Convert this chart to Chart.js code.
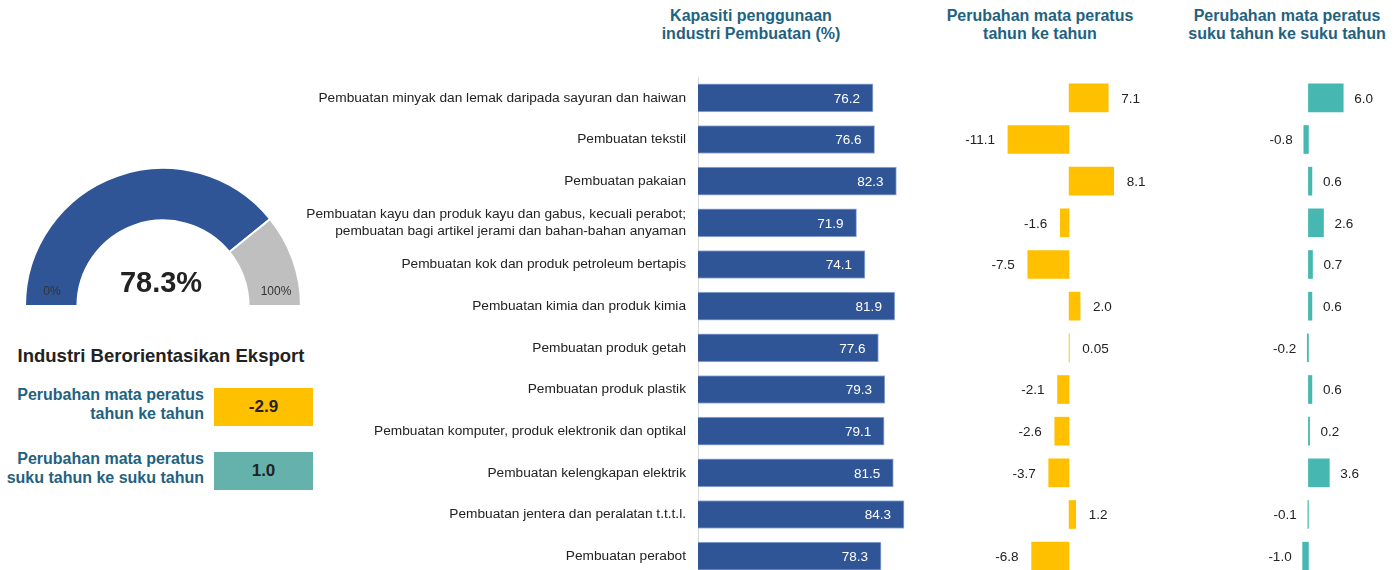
<!DOCTYPE html>
<html>
<head>
<meta charset="utf-8">
<script src="https://cdn.jsdelivr.net/npm/chart.js@4.4.0/dist/chart.umd.min.js"></script>
<style>
  html, body { margin: 0; padding: 0; background: #fff; overflow: hidden; }
  body { width: 1396px; height: 570px; position: relative; font-family: "Liberation Sans", Arial, sans-serif; }
  .abs { position: absolute; }
  .title { color: #1F6280; font-weight: bold; font-size: 16px; line-height: 18px; text-align: center; }
  .boxlbl { color: #1F6280; font-weight: bold; font-size: 16px; line-height: 19px; text-align: right; width: 220px; }
  .box { width: 99px; height: 38px; line-height: 38px; text-align: center; font-weight: bold; font-size: 17px; color: #222; }
</style>
</head>
<body>
<!-- gauge -->
<div class="abs" style="left:23px; top:167px; width:280px; height:140px;"><canvas id="gauge"></canvas></div>
<div class="abs" id="gaugeVal" style="left:81px; top:266px; width:160px; text-align:center; font-weight:bold; font-size:29px; color:#222;"></div>
<div class="abs" style="left:32px; top:284px; width:40px; text-align:center; font-size:12px; color:#333;">0%</div>
<div class="abs" style="left:254px; top:284px; width:44px; text-align:center; font-size:12px; color:#333;">100%</div>

<div class="abs" style="left:0; top:345px; width:322px; text-align:center; font-weight:bold; font-size:18.5px; color:#222;">Industri Berorientasikan Eksport</div>
<div class="abs boxlbl" style="left:-16px; top:385px;">Perubahan mata peratus<br>tahun ke tahun</div>
<div class="abs box" id="boxYoy" style="left:214px; top:388px; background:#FFC000;"></div>
<div class="abs boxlbl" style="left:-16px; top:449px;">Perubahan mata peratus<br>suku tahun ke suku tahun</div>
<div class="abs box" id="boxQoq" style="left:214px; top:452px; background:#65B2AD;"></div>

<!-- column titles -->
<div class="abs title" style="left:630px; top:7px; width:242px;">Kapasiti penggunaan<br>industri Pembuatan (%)</div>
<div class="abs title" style="left:920px; top:7px; width:240px;">Perubahan mata peratus<br>tahun ke tahun</div>
<div class="abs title" style="left:1167px; top:7px; width:240px;">Perubahan mata peratus<br>suku tahun ke suku tahun</div>

<div class="abs" style="left:280px; top:77px; width:680px; height:500px;"><canvas id="cap"></canvas></div>
<div class="abs" style="left:960px; top:77px; width:200px; height:500px;"><canvas id="yoy"></canvas></div>
<div class="abs" style="left:1200px; top:77px; width:196px; height:500px;"><canvas id="qoq"></canvas></div>

<script>
// data
const industri = [
    'Pembuatan minyak dan lemak daripada sayuran dan haiwan',
    'Pembuatan tekstil',
    'Pembuatan pakaian',
    ['Pembuatan kayu dan produk kayu dan gabus, kecuali perabot;', 'pembuatan bagi artikel jerami dan bahan-bahan anyaman'],
    'Pembuatan kok dan produk petroleum bertapis',
    'Pembuatan kimia dan produk kimia',
    'Pembuatan produk getah',
    'Pembuatan produk plastik',
    'Pembuatan komputer, produk elektronik dan optikal',
    'Pembuatan kelengkapan elektrik',
    'Pembuatan jentera dan peralatan t.t.t.l.',
    'Pembuatan perabot'
];
const kapasiti = [76.2, 76.6, 82.3, 71.9, 74.1, 81.9, 77.6, 79.3, 79.1, 81.5, 84.3, 78.3];
const ubahTahunan = [7.1, -11.1, 8.1, -1.6, -7.5, 2.0, 0.05, -2.1, -2.6, -3.7, 1.2, -6.8];
const ubahSuku = [6.0, -0.8, 0.6, 2.6, 0.7, 0.6, -0.2, 0.6, 0.2, 3.6, -0.1, -1.0];
const kapasitiKeseluruhan = 78.3;
const eksportTahunan = -2.9;
const eksportSuku = 1.0;

function fmt(v) {
    return Number.isInteger(Math.round(v * 100) / 10) ? v.toFixed(1) : String(v);
}

document.getElementById('gaugeVal').textContent = kapasitiKeseluruhan.toFixed(1) + '%';
document.getElementById('boxYoy').textContent = eksportTahunan.toFixed(1);
document.getElementById('boxQoq').textContent = eksportSuku.toFixed(1);

// label plugin: inside end (white) or outside end
const barLabels = {
    id: 'barLabels',
    afterDatasetsDraw(chart, args, opts) {
        if (!opts || !opts.mode) return;
        const ctx = chart.ctx;
        const meta = chart.getDatasetMeta(0);
        const vals = chart.data.datasets[0].data;
        ctx.save();
        ctx.font = '13.5px "Liberation Sans", Arial, sans-serif';
        ctx.textBaseline = 'middle';
        meta.data.forEach(function(bar, i) {
            const v = vals[i];
            let x;
            if (opts.mode === 'inside') {
                ctx.fillStyle = '#fff';
                ctx.textAlign = 'right';
                x = bar.x - opts.offset;
            } else {
                ctx.fillStyle = '#222';
                if (v >= 0) { ctx.textAlign = 'left'; x = bar.x + opts.offset; }
                else { ctx.textAlign = 'right'; x = bar.x - opts.offset; }
            }
            ctx.fillText(fmt(v), x, bar.y + 1);
        });
        ctx.restore();
    }
};

const gaugeChart = new Chart(document.getElementById('gauge'), {
    type: 'doughnut',
    data: {
        labels: ['Digunakan', 'Baki'],
        datasets: [{
            data: [kapasitiKeseluruhan, 100 - kapasitiKeseluruhan],
            backgroundColor: ['#2F5597', '#BFBFBF'],
            borderColor: '#fff',
            borderWidth: 2
        }]
    },
    options: {
        responsive: true,
        maintainAspectRatio: false,
        animation: false,
        rotation: -90,
        circumference: 180,
        cutout: '62%',
        plugins: { legend: { display: false }, tooltip: { enabled: false } }
    }
});

function hbar(id, values, color, min, max, extra) {
    return new Chart(document.getElementById(id), {
        type: 'bar',
        data: {
            labels: industri,
            datasets: [Object.assign({
                data: values,
                backgroundColor: color,
                barThickness: 28
            }, extra.dataset || {})]
        },
        options: {
            indexAxis: 'y',
            responsive: true,
            maintainAspectRatio: false,
            animation: false,
            layout: { padding: 0 },
            scales: {
                x: { display: false, min: min, max: max },
                y: extra.yScale || { display: false }
            },
            plugins: {
                legend: { display: false },
                tooltip: { enabled: false },
                barLabels: extra.labels
            }
        },
        plugins: [barLabels]
    });
}

const capChart = hbar('cap', kapasiti, '#2F5597', 30.5, 98.9, {
    dataset: { borderColor: '#9DB3DD', borderWidth: 1 },
    labels: { mode: 'inside', offset: 13 },
    yScale: {
        display: true,
        grid: { display: false, drawTicks: false },
        border: { display: true, color: '#D9D9D9', width: 1 },
        ticks: {
            padding: 12,
            color: '#222',
            font: { family: '"Liberation Sans", Arial, sans-serif', size: 13.7, lineHeight: 1.2 }
        },
        afterFit: function(scale) {
            scale.width = 418;
            scale.paddingTop = 0;
            scale.paddingBottom = 0;
        }
    }
});

const yoyChart = hbar('yoy', ubahTahunan, '#FFC000', -19.8, 16.5, {
    labels: { mode: 'outside', offset: 13 }
});

const qoqChart = hbar('qoq', ubahSuku, '#47B8B1', -18.7, 15.1, {
    labels: { mode: 'outside', offset: 11 }
});
</script>
</body>
</html>
